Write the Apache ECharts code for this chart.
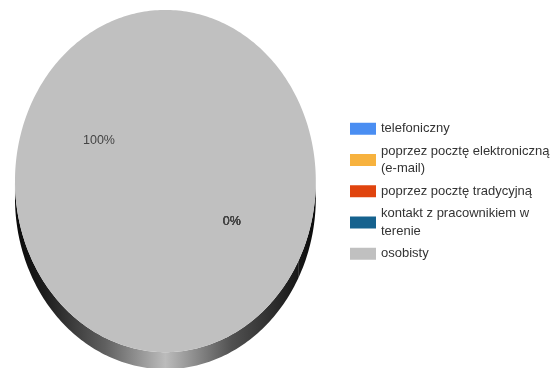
<!DOCTYPE html>
<html>
<head>
<meta charset="utf-8">
<script src="https://cdn.jsdelivr.net/npm/echarts@6/dist/echarts.min.js"></script>
<style>
  html, body { margin: 0; padding: 0; background: #ffffff; }
  #chart { width: 555px; height: 368px; }
</style>
</head>
<body>
<div id="chart"></div>
<script>
// Contact channels and their shares (%)
const categories = [
  'telefoniczny',
  'poprzez pocztę elektroniczną (e-mail)',
  'poprzez pocztę tradycyjną',
  'kontakt z pracownikiem w terenie',
  'osobisty'
];
const legendLabels = [
  'telefoniczny',
  'poprzez pocztę elektroniczną\n(e-mail)',
  'poprzez pocztę tradycyjną',
  'kontakt z pracownikiem w\nterenie',
  'osobisty'
];
const values = [0, 0, 0, 0, 100];
const colors = ['#4a8ef2', '#f7b23e', '#e0440e', '#15628e', '#c0c0c0'];

// Tilted disc layout (fractions of the chart box), angles in degrees clockwise from 3 o'clock
const PIE = { cx: 0.298, cy: 0.492, rx: 0.271, ry: 0.465, depth: 17, start: 28, labelR: 0.5 };

const total = values.reduce((a, b) => a + b, 0);
let acc = PIE.start;
const slices = values.map(v => {
  const a0 = acc;
  const a1 = acc + (v / total) * 360;
  acc = a1;
  return [a0, a1, Math.round((v / total) * 100)];
});

function geom(api) {
  const W = api.getWidth(), H = api.getHeight();
  return { cx: PIE.cx * W, cy: PIE.cy * H, rx: PIE.rx * W, ry: PIE.ry * H };
}

function arc(g, a0, a1, dy) {
  const pts = [];
  const n = Math.max(1, Math.ceil(a1 - a0));
  for (let i = 0; i <= n; i++) {
    const t = (a0 + (a1 - a0) * i / n) * Math.PI / 180;
    pts.push([g.cx + g.rx * Math.cos(t), g.cy + g.ry * Math.sin(t) + dy]);
  }
  return pts;
}

// darken a colour by multiplying its channels
function shade(color, f) {
  const c = echarts.color.parse(color);
  return 'rgb(' + [0, 1, 2].map(i => Math.round(c[i] * f)).join(',') + ')';
}

// Top face of a slice plus its percentage label
function renderTop(params, api) {
  const g = geom(api);
  const a0 = api.value(0), a1 = api.value(1);
  const children = [];
  if (a1 > a0) {
    children.push({
      type: 'polygon',
      shape: { points: [[g.cx, g.cy]].concat(arc(g, a0, a1, 0)) },
      style: { fill: api.visual('color') }
    });
  }
  const mid = (a0 + a1) / 2 * Math.PI / 180;
  children.push({
    type: 'text',
    x: g.cx + PIE.labelR * g.rx * Math.cos(mid),
    y: g.cy + PIE.labelR * g.ry * Math.sin(mid),
    z2: 10,
    style: {
      text: api.value(2) + '%',
      fill: '#444444',
      font: '12.5px "Liberation Sans", Arial, sans-serif',
      align: 'center',
      verticalAlign: 'middle'
    }
  });
  return { type: 'group', children };
}

// Rim of the disc: only the front half (0..180 deg) is visible
function renderSide(params, api) {
  const g = geom(api);
  const a0 = api.value(0), a1 = api.value(1);
  const c = api.visual('color');
  const fill = new echarts.graphic.LinearGradient(g.cx - g.rx, 0, g.cx + g.rx, 0, [
    { offset: 0, color: shade(c, 0.05) },
    { offset: 0.1, color: shade(c, 0.15) },
    { offset: 0.3, color: shade(c, 0.5) },
    { offset: 0.5, color: shade(c, 0.98) },
    { offset: 0.72, color: shade(c, 0.42) },
    { offset: 0.92, color: shade(c, 0.15) },
    { offset: 1, color: shade(c, 0.05) }
  ], true);
  const children = [];
  [[0, 180], [360, 540]].forEach(([lo, hi]) => {
    const s = Math.max(a0, lo), e = Math.min(a1, hi);
    if (e > s) {
      const top = arc(g, s, e, 0);
      const bottom = arc(g, s, e, PIE.depth).reverse();
      children.push({ type: 'polygon', shape: { points: top.concat(bottom) }, style: { fill } });
    }
  });
  return { type: 'group', children };
}

const series = [{
  type: 'custom',
  coordinateSystem: 'none',
  z: 1,
  silent: true,
  renderItem: renderSide,
  data: slices.map((s, i) => ({ value: s, itemStyle: { color: colors[i] } }))
}].concat(categories.map((name, i) => ({
  type: 'custom',
  name,
  coordinateSystem: 'none',
  z: 2,
  silent: true,
  itemStyle: { color: colors[i] },
  renderItem: renderTop,
  data: [slices[i]]
})));

const chart = echarts.init(document.getElementById('chart'), null, { renderer: 'canvas' });
chart.setOption({
  animation: false,
  backgroundColor: '#ffffff',
  legend: {
    orient: 'vertical',
    left: 345,
    top: 115,
    itemWidth: 26,
    itemHeight: 12,
    itemGap: 5,
    icon: 'rect',
    selectedMode: false,
    data: categories,
    formatter: n => legendLabels[categories.indexOf(n)],
    textStyle: {
      fontFamily: '"Liberation Sans", Arial, sans-serif',
      fontSize: 13,
      color: '#333333',
      lineHeight: 17.5
    }
  },
  series
});
</script>
</body>
</html>
